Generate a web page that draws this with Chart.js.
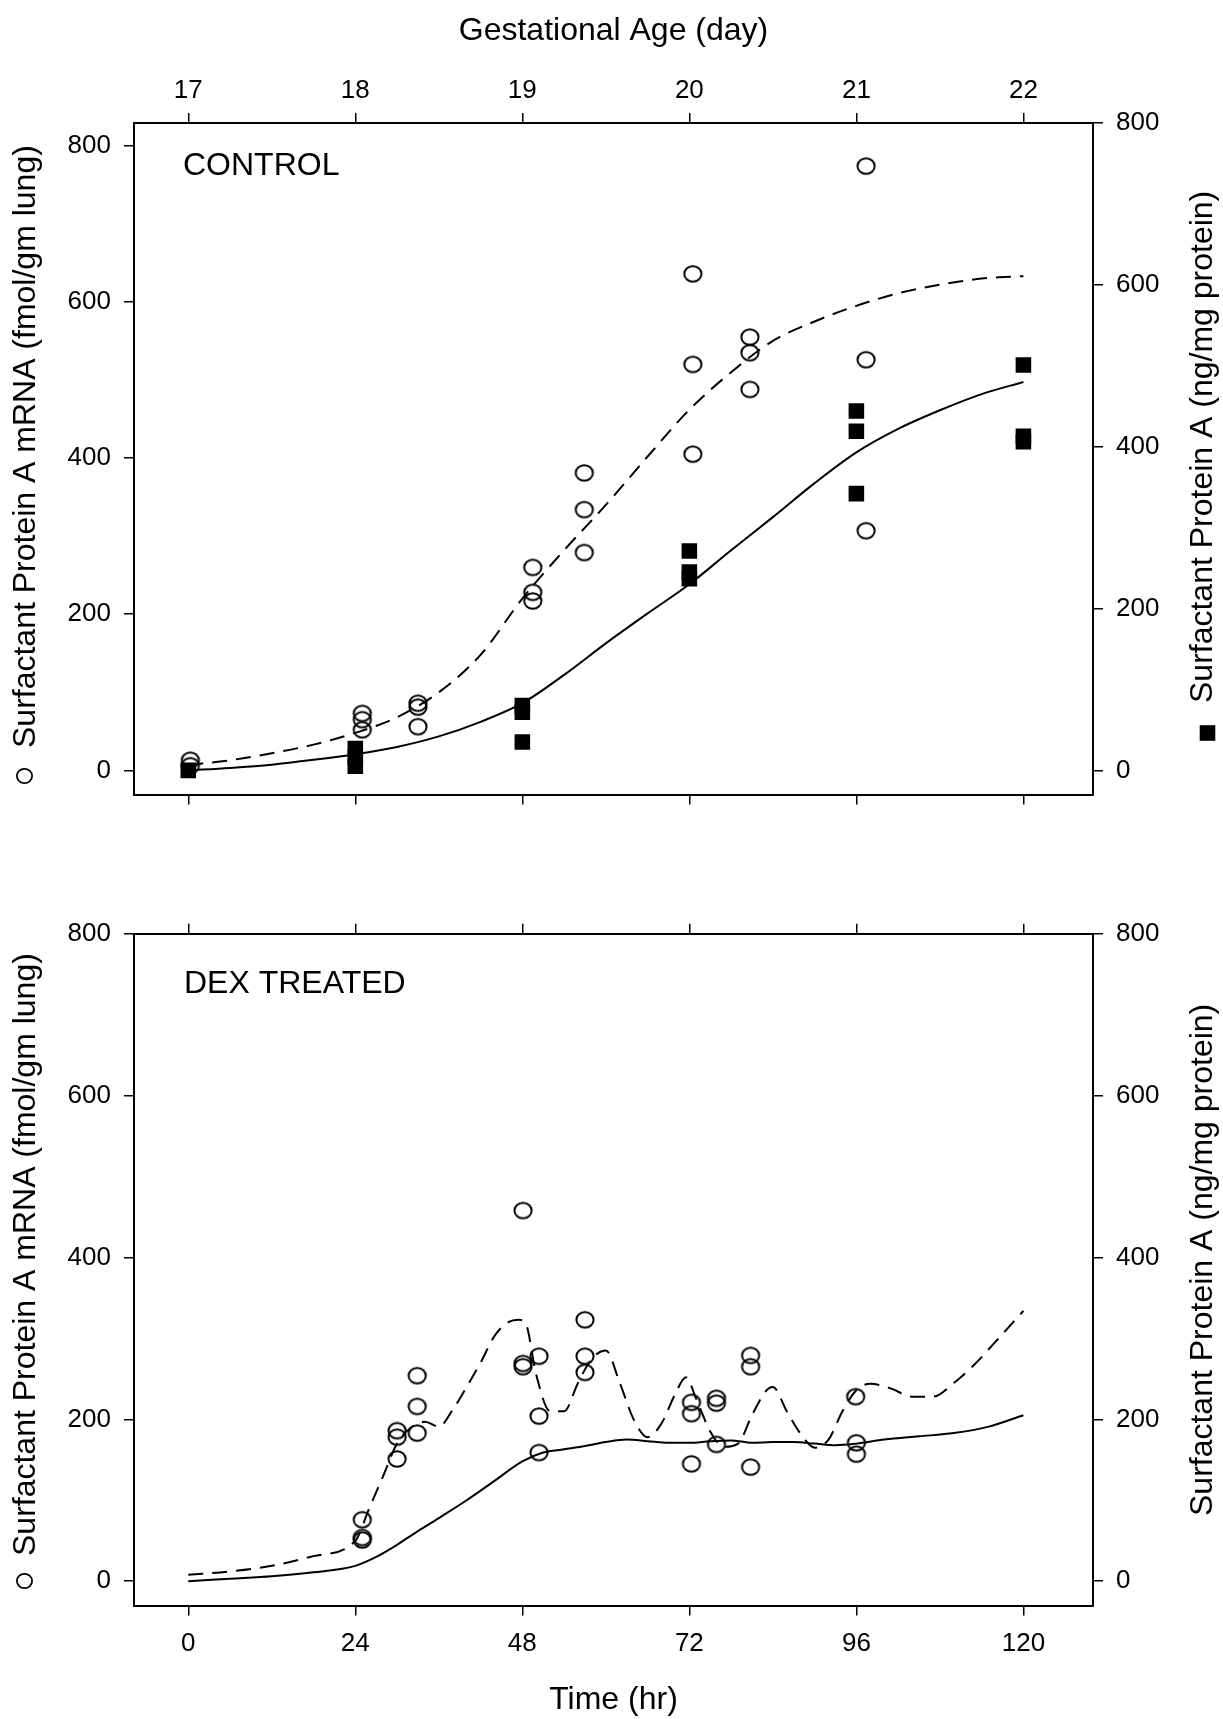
<!DOCTYPE html>
<html>
<head>
<meta charset="utf-8">
<script src="https://cdn.jsdelivr.net/npm/chart.js@4.4.1/dist/chart.umd.min.js"></script>
<title>Surfactant Protein A - Control vs Dex</title>
<style>
    body { margin: 0; background: #fff; }
    #wrap { position: relative; width: 1223px; height: 1719px; background: #fff; }
    #wrap canvas { position: absolute; left: 0; }
</style>
</head>
<body>
<div id="wrap">
    <canvas id="controlChart" width="1223" height="860" style="top:0px"></canvas>
    <canvas id="dexChart" width="1223" height="859" style="top:860px"></canvas>
</div>

<script>
// ---- values ----
var hourTicks = [0, 24, 48, 72, 96, 120];
var dayLabels = ['17', '18', '19', '20', '21', '22'];
var yTicks = [0, 200, 400, 600, 800];

// CONTROL - SP-A mRNA (open circles, left axis)
var ctrlMrnaHr  = [0.3, 0.3, 25, 25, 25, 33, 33, 33, 49.5, 49.5, 49.5, 56.9, 56.9, 56.9, 72.5, 72.5, 72.5, 80.7, 80.7, 80.7, 97.4, 97.4, 97.4];
var ctrlMrnaVal = [13, 6, 73, 65, 52, 86, 81, 56, 260, 228, 217, 381, 334, 279, 636, 520, 405, 555, 535, 488, 774, 526, 307];

// CONTROL - SP-A protein (filled squares, right axis)
var ctrlProtHr  = [0, 24, 24, 24, 48, 48, 48, 72, 72, 72, 96, 96, 96, 120, 120, 120];
var ctrlProtVal = [0, 27, 16, 5, 80, 72, 35, 271, 245, 237, 444, 419, 342, 501, 413, 406];

// CONTROL - fitted curves
var ctrlFitHr      = [0, 6, 12, 18, 24, 30, 36, 42, 48, 54, 60, 66, 72, 78, 84, 90, 96, 102, 108, 114, 120];
var ctrlMrnaFitVal = [7, 13, 22, 33, 48, 68, 100, 148, 220, 282, 340, 402, 462, 510, 550, 575, 595, 611, 622, 630, 633];
var ctrlProtFitVal = [0, 3, 7, 13, 20, 29, 42, 60, 83, 118, 157, 194, 230, 272, 313, 355, 393, 422, 445, 465, 480];

// DEX TREATED - SP-A mRNA (open circles)
var dexMrnaHr  = [25, 25, 25, 30, 30, 30, 32.9, 32.9, 32.9, 48.1, 48.1, 48.1, 50.4, 50.4, 50.4, 57, 57, 57, 72.3, 72.3, 72.3, 75.9, 75.9, 75.9, 80.8, 80.8, 80.8, 95.9, 96, 96];
var dexMrnaVal = [76, 54, 51, 186, 178, 151, 254, 216, 183, 458, 269, 265, 278, 204, 159, 323, 278, 258, 221, 207, 145, 226, 220, 169, 279, 265, 141, 228, 171, 157];

// DEX TREATED - dashed curve (mRNA)
var dexMrnaFitHr  = [0, 6, 12, 18, 24, 26, 28, 30, 32, 34, 36, 38, 40, 42, 44, 46, 47.5, 48.5, 50, 52, 54, 56, 58, 60, 62, 64, 66, 68, 70, 71.5, 73, 75, 77, 79, 81, 83, 84, 86, 88, 90, 92, 94, 96, 98, 101, 104, 107, 110, 113, 116, 120];
var dexMrnaFitVal = [8, 12, 19, 31, 50, 90, 130, 170, 190, 197, 191, 212, 240, 270, 303, 320, 323, 318, 255, 210, 210, 245, 275, 285, 245, 200, 178, 195, 232, 252, 225, 185, 166, 170, 205, 235, 240, 210, 182, 165, 175, 210, 236, 244, 238, 228, 228, 245, 268, 296, 334];

// DEX TREATED - solid curve (protein)
var dexProtFitHr  = [0, 6, 12, 18, 24, 27, 30, 33, 36, 40, 44, 48, 51, 54, 57, 60, 63, 66, 69, 72, 75, 78, 81, 84, 87, 90, 93, 96, 100, 105, 110, 115, 120];
var dexProtFitVal = [0, 3, 6, 11, 19, 30, 45, 62, 78, 100, 124, 148, 159, 163, 167, 172, 175, 173, 171, 171, 173, 174, 171, 172, 172, 170, 168, 170, 175, 179, 183, 191, 205];

// ---- helpers ----
var FONT = '"Liberation Sans", Arial, Helvetica, sans-serif';
Chart.defaults.font.family = FONT;
Chart.defaults.color = '#000';

function pairs(xs, ys) {
    var out = [];
    for (var i = 0; i < xs.length; i++) out.push({x: xs[i], y: ys[i]});
    return out;
}

// open circle marker (a touch wider than tall, like the original)
function makeRing() {
    var c = document.createElement('canvas');
    c.width = 22; c.height = 20;
    var g = c.getContext('2d');
    g.strokeStyle = '#000';
    g.lineWidth = 2;
    g.beginPath();
    g.ellipse(11, 10, 8.6, 7.8, 0, 0, Math.PI * 2);
    g.stroke();
    return c;
}
var ring = makeRing();

// side axis titles (both read bottom-to-top), panel label and marker keys
var sideTitles = {
    id: 'sideTitles',
    afterDraw: function (chart, args, o) {
        var ctx = chart.ctx;
        ctx.save();
        ctx.fillStyle = '#000';
        ctx.strokeStyle = '#000';
        ctx.font = '32px ' + FONT;

        // panel label
        ctx.textAlign = 'left';
        ctx.textBaseline = 'alphabetic';
        ctx.fillText(o.panel, o.panelX, o.panelY);

        // left title
        ctx.textBaseline = 'middle';
        ctx.save();
        ctx.translate(o.leftX, o.leftY);
        ctx.rotate(-Math.PI / 2);
        ctx.fillText('Surfactant Protein A mRNA (fmol/gm lung)', 0, 0);
        ctx.restore();
        ctx.lineWidth = 1.8;
        ctx.beginPath();
        ctx.ellipse(o.leftX - 1.5, o.circleY, 7.6, 7.2, 0, 0, Math.PI * 2);
        ctx.stroke();

        // right title
        ctx.save();
        ctx.translate(o.rightX, o.rightY);
        ctx.rotate(-Math.PI / 2);
        ctx.fillText('Surfactant Protein A (ng/mg protein)', 0, 0);
        ctx.restore();
        if (o.squareY) {
            ctx.fillRect(o.rightX - 3.3, o.squareY - 7.8, 15.6, 15.6);
        }
        ctx.restore();
    }
};

function setTicks(list) {
    return function (axis) {
        axis.ticks = list.map(function (v) { return {value: v}; });
    };
}

function fixSize(prop, size) {
    return function (scale) { scale[prop] = size; };
}

var gridOpts = {drawOnChartArea: false, drawTicks: true, tickLength: 10, color: '#000', lineWidth: 1.5};
var borderOpts = {display: true, color: '#000', width: 2};

function xAxis(position, size, showLabels, title) {
    var ax = {
        type: 'linear',
        position: position,
        min: -7.8,
        max: 130,
        afterBuildTicks: setTicks(hourTicks),
        afterFit: fixSize('height', size),
        grid: gridOpts,
        border: borderOpts,
        ticks: {display: showLabels, autoSkip: false, maxRotation: 0, font: {size: 26}, padding: position === 'top' ? 7 : 13},
        title: {display: false}
    };
    if (title) {
        ax.title = {display: true, text: title, font: {size: 32}, padding: position === 'top' ? {top: 12, bottom: 0} : {top: 0, bottom: 0}};
    }
    return ax;
}

function yAxis(position, min, max, size) {
    return {
        type: 'linear',
        position: position,
        min: min,
        max: max,
        afterBuildTicks: setTicks(yTicks),
        afterFit: fixSize('width', size),
        grid: gridOpts,
        border: borderOpts,
        ticks: {font: {size: 26}, padding: 13, autoSkip: false}
    };
}

function lineSet(xs, ys, axisId, dashed) {
    return {
        data: pairs(xs, ys),
        yAxisID: axisId,
        showLine: true,
        borderColor: '#000',
        borderWidth: 2,
        borderDash: dashed ? [15, 9] : [],
        pointRadius: 0,
        cubicInterpolationMode: 'monotone',
        fill: false
    };
}

function pointSet(xs, ys, axisId, square) {
    return {
        data: pairs(xs, ys),
        yAxisID: axisId,
        showLine: false,
        pointStyle: square ? 'rect' : ring,
        pointRadius: square ? 11 : 9,
        backgroundColor: square ? '#000' : 'rgba(0,0,0,0)',
        borderColor: '#000',
        borderWidth: square ? 0 : 2
    };
}

// ---- CONTROL panel ----
new Chart(document.getElementById('controlChart'), {
    type: 'scatter',
    data: {
        datasets: [
            lineSet(ctrlFitHr, ctrlMrnaFitVal, 'y', true),
            lineSet(ctrlFitHr, ctrlProtFitVal, 'y2', false),
            pointSet(ctrlMrnaHr, ctrlMrnaVal, 'y', false),
            pointSet(ctrlProtHr, ctrlProtVal, 'y2', true)
        ]
    },
    options: {
        responsive: false,
        animation: false,
        devicePixelRatio: 1,
        layout: {padding: 0},
        scales: {
            x: xAxis('bottom', 65.5, false, null),
            xTop: Object.assign(xAxis('top', 123, true, 'Gestational Age (day)'), {
                ticks: {display: true, autoSkip: false, maxRotation: 0, font: {size: 26}, padding: 7,
                        callback: function (value, index) { return dayLabels[index]; }}
            }),
            y: yAxis('left', -30.9, 829.2, 134),
            y2: yAxis('right', -29.8, 800, 130)
        },
        plugins: {
            legend: {display: false},
            tooltip: {enabled: false},
            sideTitles: {
                panel: 'CONTROL', panelX: 183, panelY: 175,
                leftX: 26, leftY: 748, circleY: 776,
                rightX: 1203, rightY: 703, squareY: 733
            }
        }
    },
    plugins: [sideTitles]
});

// ---- DEX TREATED panel ----
new Chart(document.getElementById('dexChart'), {
    type: 'scatter',
    data: {
        datasets: [
            lineSet(dexMrnaFitHr, dexMrnaFitVal, 'y', true),
            lineSet(dexProtFitHr, dexProtFitVal, 'y2', false),
            pointSet(dexMrnaHr, dexMrnaVal, 'y', false)
        ]
    },
    options: {
        responsive: false,
        animation: false,
        devicePixelRatio: 1,
        layout: {padding: 0},
        scales: {
            x: xAxis('bottom', 113.5, true, 'Time (hr)'),
            xTop: xAxis('top', 73.7, false, null),
            y: yAxis('left', -30, 800, 134),
            y2: yAxis('right', -30, 800, 130)
        },
        plugins: {
            legend: {display: false},
            tooltip: {enabled: false},
            sideTitles: {
                panel: 'DEX TREATED', panelX: 184, panelY: 133,
                leftX: 26, leftY: 696, circleY: 721,
                rightX: 1203, rightY: 656, squareY: null
            }
        }
    },
    plugins: [sideTitles]
});
</script>
</body>
</html>
